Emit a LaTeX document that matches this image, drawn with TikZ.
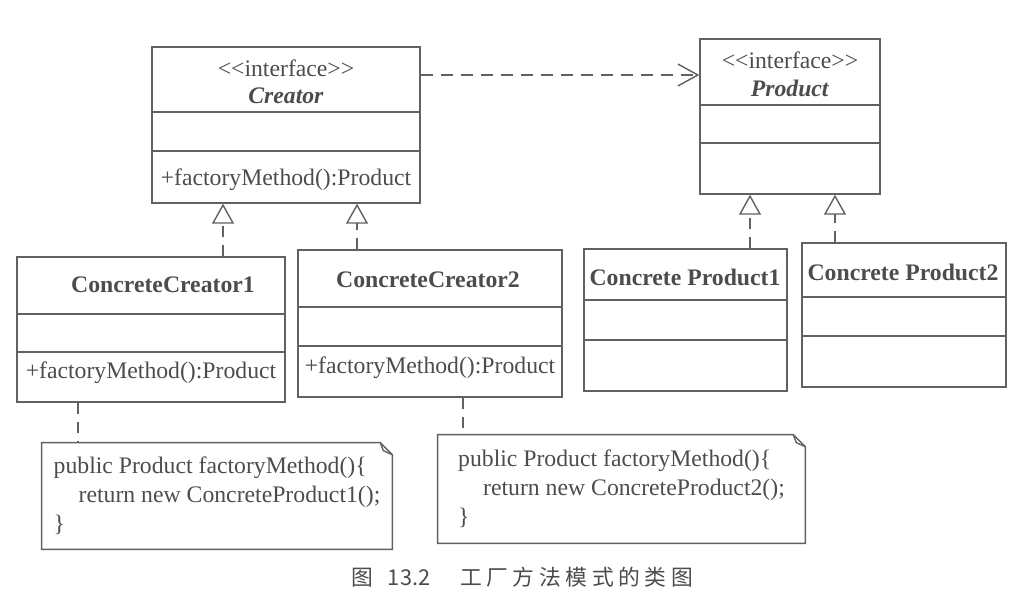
\documentclass[tikz,border=0pt]{standalone}
\usepackage{fontspec}
\setmainfont{Liberation Serif}
\newfontfamily\cjk{Noto Sans CJK SC}
\usetikzlibrary{arrows.meta}

\definecolor{trait}{gray}{0.38}
\definecolor{texte}{gray}{0.30}

\begin{document}
\begin{tikzpicture}[x=0.02cm, y=-0.02cm, font=\fontsize{13.5}{16.5}\selectfont, text=texte]

%%%%%%%%%%%%%%%%%%%%%%
%%%	   Def style    %%%
%%%%%%%%%%%%%%%%%%%%%%

\def \heavy{0.8pt}
\def \pli{0.24cm}

\tikzset{
  classe/.style={draw=trait, line width=\heavy, inner sep=0pt},
  note/.style={inner sep=0pt, align=left},
  sep/.style={draw=trait, line width=\heavy},
  lien/.style={draw=trait, line width=\heavy, dash pattern=on 0.22cm off 0.16cm},
  realise/.style={lien, -{Triangle[open, length=0.4cm, width=0.44cm]}},
  depend/.style={lien, dash pattern=on 0.24cm off 0.16cm, -{Straight Barb[length=0.4cm, width=0.44cm]}},
}

\useasboundingbox (0,0) rectangle (1036,602);

%%%%%%%%%%%%%%%%%%%%%%
%%%	  Interfaces    %%%
%%%%%%%%%%%%%%%%%%%%%%

\node[classe, minimum width=5.36cm, minimum height=3.12cm] (creator) at (286,125) {};
\draw[sep] (creator.west |- 0,112) -- (creator.east |- 0,112);
\draw[sep] (creator.west |- 0,151) -- (creator.east |- 0,151);
\node (creatorS) at (286,68) {<{}<interface>{}>};
\node (creatorN) at (286,96) {\textbf{\textit{Creator}}};
\node (creatorM) at (286,180) {+factoryMethod():Product};

\node[classe, minimum width=3.6cm, minimum height=3.1cm] (product) at (790,116.5) {};
\draw[sep] (product.west |- 0,105) -- (product.east |- 0,105);
\draw[sep] (product.west |- 0,143) -- (product.east |- 0,143);
\node (productS) at (790,60) {<{}<interface>{}>};
\node (productN) at (790,88) {\textbf{\textit{Product}}};

%%%%%%%%%%%%%%%%%%%%%%
%%%	   Classes      %%%
%%%%%%%%%%%%%%%%%%%%%%

\node[classe, minimum width=5.36cm, minimum height=2.9cm] (cc1) at (151,329.5) {};
\draw[sep] (cc1.west |- 0,314) -- (cc1.east |- 0,314);
\draw[sep] (cc1.west |- 0,352) -- (cc1.east |- 0,352);
\node (cc1N) at (163,285) {\textbf{ConcreteCreator1}};
\node (cc1M) at (151,373) {+factoryMethod():Product};

\node[classe, minimum width=5.28cm, minimum height=2.94cm] (cc2) at (430,323.5) {};
\draw[sep] (cc2.west |- 0,307) -- (cc2.east |- 0,307);
\draw[sep] (cc2.west |- 0,346) -- (cc2.east |- 0,346);
\node (cc2N) at (428,280) {\textbf{ConcreteCreator2}};
\node (cc2M) at (430,368) {+factoryMethod():Product};

\node[classe, minimum width=4.06cm, minimum height=2.84cm] (cp1) at (685.5,320) {};
\draw[sep] (cp1.west |- 0,300) -- (cp1.east |- 0,300);
\draw[sep] (cp1.west |- 0,340) -- (cp1.east |- 0,340);
\node (cp1N) at (685,277) {\textbf{Concrete Product1}};

\node[classe, minimum width=4.08cm, minimum height=2.88cm] (cp2) at (904,315) {};
\draw[sep] (cp2.west |- 0,297) -- (cp2.east |- 0,297);
\draw[sep] (cp2.west |- 0,336) -- (cp2.east |- 0,336);
\node (cp2N) at (903,272) {\textbf{Concrete Product2}};

%%%%%%%%%%%%%%%%%%%%%%
%%%	    Notes       %%%
%%%%%%%%%%%%%%%%%%%%%%

\node[note, minimum width=7cm, minimum height=2.12cm] (note1) at (217,496)
  {public Product factoryMethod()\{\\\hspace*{0.5cm}return new ConcreteProduct1();\\\}};
\draw[sep] ([xshift=-\pli]note1.north east) -- (note1.north west) -- (note1.south west)
  -- (note1.south east) -- ([yshift=-\pli]note1.north east) -- cycle;
\draw[sep] ([xshift=-\pli]note1.north east) -- ([xshift=-0.18cm, yshift=-0.16cm]note1.north east)
  -- ([yshift=-\pli]note1.north east);

\node[note, minimum width=7.34cm, minimum height=2.16cm] (note2) at (621.5,489)
  {public Product factoryMethod()\{\\\hspace*{0.5cm}return new ConcreteProduct2();\\\}};
\draw[sep] ([xshift=-\pli]note2.north east) -- (note2.north west) -- (note2.south west)
  -- (note2.south east) -- ([yshift=-\pli]note2.north east) -- cycle;
\draw[sep] ([xshift=-\pli]note2.north east) -- ([xshift=-0.18cm, yshift=-0.16cm]note2.north east)
  -- ([yshift=-\pli]note2.north east);

%%%%%%%%%%%%%%%%%%%%%%
%%%	    Liens       %%%
%%%%%%%%%%%%%%%%%%%%%%

\coordinate (r1) at (223,0);
\coordinate (r2) at (357,0);
\coordinate (r3) at (750,0);
\coordinate (r4) at (835,0);
\coordinate (n1) at (78,0);
\coordinate (n2) at (463,0);
\coordinate (d) at (0,75);

% On dessine les realisations des interfaces
\draw[realise] (cc1.north -| r1) -- (creator.south -| r1);
\draw[realise] (cc2.north -| r2) -- (creator.south -| r2);
\draw[realise] (cp1.north -| r3) -- (product.south -| r3);
\draw[realise] (cp2.north -| r4) -- (product.south -| r4);

% On dessine la dependance et les notes
\draw[depend] (creator.east |- d) -- (product.west |- d);
\draw[lien] (cc1.south -| n1) -- (note1.north -| n1);
\draw[lien] (cc2.south -| n2) -- (note2.north -| n2);

%%%%%%%%%%%%%%%%%%%%%%
%%%	    Legende     %%%
%%%%%%%%%%%%%%%%%%%%%%

\def \esp{\hspace{2.6pt}}
\node (legende) at (522,577) {\cjk\fontsize{12.4}{14}\selectfont 图\hspace{0.3cm}13.2\hspace{0.6cm}工\esp 厂\esp 方\esp 法\esp 模\esp 式\esp 的\esp 类\esp 图};

%%%%%%%%%%%%%%%%%%%%%%%%%%%%%%%%%%%%%%%%%

\end{tikzpicture}
\end{document}
